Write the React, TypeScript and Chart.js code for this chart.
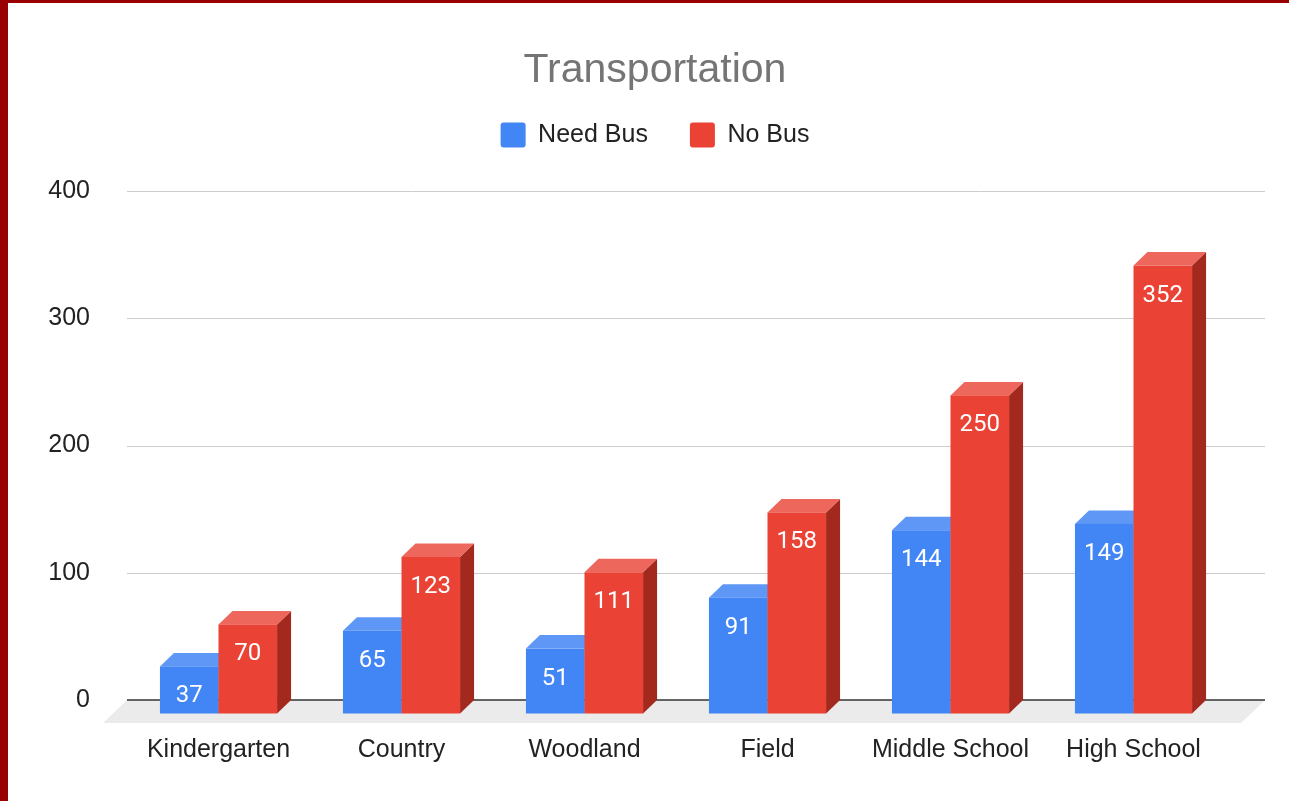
import React, { useEffect, useRef } from 'react';
import { Chart, registerables, layouts } from 'chart.js';

Chart.register(...registerables);

const chartTitle = 'Transportation';
const categories = ['Kindergarten', 'Country', 'Woodland', 'Field', 'Middle School', 'High School'];
const seriesNames = ['Need Bus', 'No Bus'];
const needBus = [37, 65, 51, 91, 144, 149];
const noBus = [70, 123, 111, 158, 250, 352];
const yTicks = [0, 100, 200, 300, 400];

const FRONT = ['#4285f4', '#ea4335'];
const TOPC = ['#5e97f6', '#ee675c'];
const SIDE = ['#2a56c6', '#a3291f'];
const DX = 14;
const DY = 13.5;
const BACK_EXT = 40;
const SANS = "'Liberation Sans', Arial, sans-serif";

function spacer(position: string, size: number) {
  const horizontal = position === 'top' || position === 'bottom';
  return {
    position,
    weight: 0,
    fullSize: horizontal,
    options: {},
    width: 0,
    height: 0,
    top: 0,
    left: 0,
    right: 0,
    bottom: 0,
    isHorizontal() {
      return horizontal;
    },
    update(this: any, maxWidth: number, maxHeight: number) {
      if (horizontal) {
        this.width = maxWidth;
        this.height = size;
      } else {
        this.width = size;
        this.height = maxHeight;
      }
    },
    draw() {},
  };
}

const threeD = {
  id: 'threeD',
  beforeInit(chart: any) {
    layouts.addBox(chart, spacer('top', 33.5) as any);
    layouts.addBox(chart, spacer('right', 64) as any);
  },
  beforeDraw(chart: any) {
    const ctx = chart.ctx;
    ctx.save();
    ctx.fillStyle = '#ffffff';
    ctx.fillRect(0, 0, chart.width, chart.height);
    ctx.fillStyle = '#990000';
    ctx.fillRect(0, 0, 8, chart.height);
    ctx.fillRect(0, 0, chart.width, 3);
    ctx.restore();
  },
  beforeDatasetsDraw(chart: any) {
    const { ctx, chartArea } = chart;
    const y = chart.scales.y;
    const y0 = y.getPixelForValue(0);
    const left = chartArea.left;
    const right = chartArea.right + BACK_EXT;
    ctx.save();
    // floor
    ctx.fillStyle = '#ebebeb';
    ctx.beginPath();
    ctx.moveTo(left, y0);
    ctx.lineTo(right, y0);
    ctx.lineTo(right - 24, y0 + 23);
    ctx.lineTo(left - 24, y0 + 23);
    ctx.closePath();
    ctx.fill();
    // grid lines
    ctx.strokeStyle = '#cccccc';
    ctx.lineWidth = 1;
    yTicks.forEach((v) => {
      if (v === 0) return;
      const py = Math.round(y.getPixelForValue(v)) + 0.5;
      ctx.beginPath();
      ctx.moveTo(left, py);
      ctx.lineTo(right, py);
      ctx.stroke();
    });
    ctx.strokeStyle = '#333333';
    ctx.lineWidth = 1.5;
    ctx.beginPath();
    ctx.moveTo(left, y0);
    ctx.lineTo(right, y0);
    ctx.stroke();
    // 3D bars
    chart.data.datasets.forEach((ds: any, di: number) => {
      const meta = chart.getDatasetMeta(di);
      meta.data.forEach((bar: any, i: number) => {
        const p = bar.getProps(['x', 'y', 'base', 'width'], true);
        const x0 = p.x - p.width / 2;
        const x1 = p.x + p.width / 2;
        const top = p.y + DY;
        const bottom = p.base + DY;
        ctx.fillStyle = SIDE[di];
        ctx.beginPath();
        ctx.moveTo(x1, top);
        ctx.lineTo(x1 + DX, top - DY);
        ctx.lineTo(x1 + DX, bottom - DY);
        ctx.lineTo(x1, bottom);
        ctx.closePath();
        ctx.fill();
        ctx.fillStyle = TOPC[di];
        ctx.beginPath();
        ctx.moveTo(x0, top);
        ctx.lineTo(x0 + DX, top - DY);
        ctx.lineTo(x1 + DX, top - DY);
        ctx.lineTo(x1, top);
        ctx.closePath();
        ctx.fill();
        ctx.fillStyle = FRONT[di];
        ctx.fillRect(x0, top, x1 - x0, bottom - top);
        ctx.fillStyle = '#ffffff';
        ctx.font = '24px Roboto, sans-serif';
        ctx.textAlign = 'center';
        ctx.textBaseline = 'middle';
        ctx.fillText(String(ds.data[i]), p.x, top + 30);
      });
    });
    ctx.restore();
    return false;
  },
};

export default function App() {
  const ref = useRef<HTMLCanvasElement>(null);
  useEffect(() => {
    const chart = new Chart(ref.current as HTMLCanvasElement, {
      type: 'bar',
      data: {
        labels: categories,
        datasets: [
          {
            label: seriesNames[0],
            data: needBus,
            backgroundColor: FRONT[0],
            borderWidth: 0,
            categoryPercentage: 0.64,
            barPercentage: 1,
          },
          {
            label: seriesNames[1],
            data: noBus,
            backgroundColor: FRONT[1],
            borderWidth: 0,
            categoryPercentage: 0.64,
            barPercentage: 1,
          },
        ],
      },
      options: {
        responsive: false,
        animation: false,
        devicePixelRatio: 1,
        layout: { padding: { left: 21, right: 0, top: 0, bottom: 0 } },
        plugins: {
          title: {
            display: true,
            text: chartTitle,
            color: '#757575',
            font: { family: SANS, size: 41, weight: 'normal', lineHeight: 0.5 },
            padding: { top: 60, bottom: 0 },
          },
          legend: {
            display: true,
            position: 'top',
            labels: {
              boxWidth: 25,
              boxHeight: 25,
              padding: 42,
              color: '#222222',
              font: { family: SANS, size: 25 },
              useBorderRadius: true,
              borderRadius: 3,
            },
          },
          tooltip: { enabled: false },
        },
        scales: {
          x: {
            type: 'category',
            offset: true,
            grid: { display: false, drawTicks: false },
            border: { display: false },
            ticks: { color: '#222222', font: { family: SANS, size: 25 }, padding: 35 },
            afterFit(scale: any) {
              scale.height = 101;
              scale.paddingLeft = 0;
              scale.paddingRight = 0;
            },
          },
          y: {
            min: 0,
            max: 400,
            grid: { display: false, drawTicks: false },
            border: { display: false },
            ticks: {
              stepSize: 100,
              color: '#222222',
              font: { family: SANS, size: 25, lineHeight: 1.1 },
              padding: 37,
            },
            afterFit(scale: any) {
              scale.width = 106;
              scale.paddingTop = 0;
              scale.paddingBottom = 0;
            },
          },
        },
      } as any,
      plugins: [threeD as any],
    });
    return () => chart.destroy();
  }, []);
  return (
    <div style={{ position: 'fixed', left: 0, top: 0, width: 1289, height: 801, background: '#ffffff' }}>
      <canvas ref={ref} width={1289} height={801} style={{ display: 'block', width: 1289, height: 801 }} />
    </div>
  );
}
